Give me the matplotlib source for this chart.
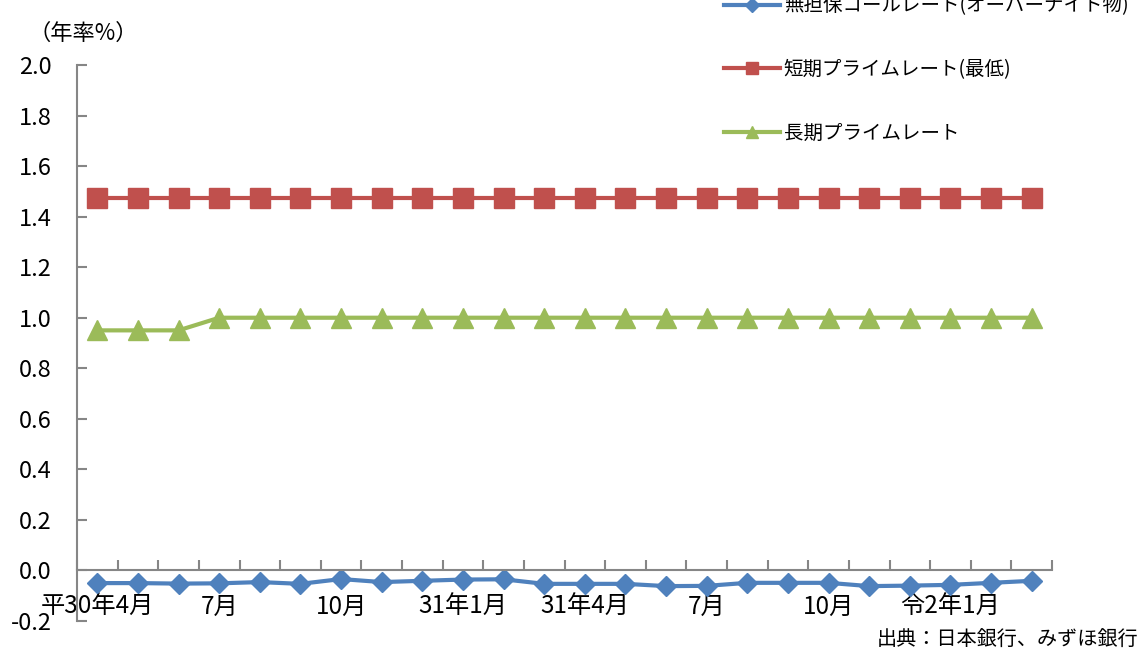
import matplotlib
matplotlib.use('Agg')
import matplotlib.pyplot as plt
import numpy as np

plt.rcParams['font.family'] = ['Noto Sans CJK JP', 'DejaVu Sans']

# data (monthly, 2018/4 - 2020/3), % per year
months = ['平30年4月', '', '', '7月', '', '', '10月', '', '', '31年1月', '', '',
          '31年4月', '', '', '7月', '', '', '10月', '', '', '令2年1月', '', '']
call_rate = [-0.050, -0.050, -0.052, -0.051, -0.046, -0.053, -0.034, -0.046,
             -0.041, -0.036, -0.035, -0.053, -0.053, -0.053, -0.062, -0.061,
             -0.049, -0.049, -0.049, -0.062, -0.060, -0.057, -0.049, -0.041]
short_prime = [1.475] * 24
long_prime = [0.95, 0.95, 0.95] + [1.00] * 21

names = ['無担保コールレート(オーバーナイト物)', '短期プライムレート(最低)', '長期プライムレート']
colors = ['#4F81BD', '#C0504D', '#9BBB59']
gray = '#868686'

fig = plt.figure(figsize=(11.43, 6.51), dpi=100)
ax = fig.add_axes([77 / 1143, 1 - 621 / 651, (1052 - 77) / 1143, (621 - 65) / 651])

x = np.arange(len(months))
ax.plot(x, call_rate, '-D', c=colors[0], lw=3, ms=10.5, label=names[0])
ax.plot(x, short_prime, '-s', c=colors[1], lw=3, ms=14, label=names[1])
ax.plot(x, long_prime, '-^', c=colors[2], lw=3, ms=14, label=names[2])

ax.set_xlim(-0.5, len(months) - 0.5)
ax.set_ylim(-0.2, 2.0)

# axes look
for s in ['top', 'right']:
    ax.spines[s].set_visible(False)
ax.spines['bottom'].set_position(('data', 0))
ax.spines['bottom'].set_color(gray)
ax.spines['left'].set_color(gray)
ax.spines['bottom'].set_linewidth(1.5)
ax.spines['left'].set_linewidth(1.5)

yt = np.arange(-0.2, 2.01, 0.2)
ax.set_yticks(yt)
ax.set_yticklabels(['%.1f' % v for v in yt])
ax.tick_params(axis='y', direction='in', length=7, width=1.5, color=gray,
               labelsize=17, pad=18)

ax.set_xticks(x)
ax.set_xticklabels(months)
ax.set_xticks(np.arange(-0.5, len(months)), minor=True)
ax.tick_params(axis='x', which='major', length=0, labelsize=17.5, pad=17)
ax.tick_params(axis='x', which='minor', direction='in', length=7, width=1.5, color=gray)

fig.text(28 / 1143, 1 - 33 / 651, '（年率%）', fontsize=16, va='center')
fig.text(1138 / 1143, 1 - 640 / 651, '出典：日本銀行、みずほ銀行', fontsize=14.5, ha='right', va='center')

ax.legend(loc='upper left', bbox_to_anchor=(706 / 1143, 1 + 22 / 651),
          bbox_transform=fig.transFigure, frameon=False, fontsize=14,
          handlelength=2.9, handletextpad=0.2, labelspacing=2.2, markerscale=0.65)

fig.savefig('out.png', dpi=100)
